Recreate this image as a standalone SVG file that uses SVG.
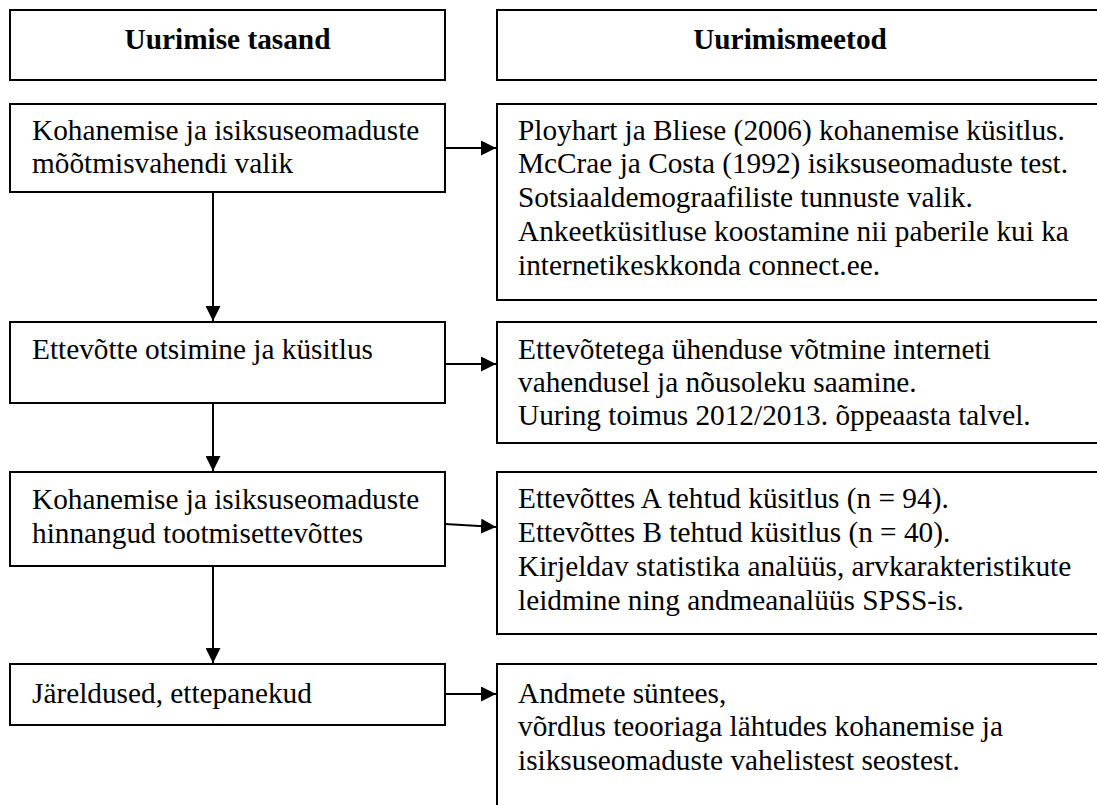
<svg xmlns="http://www.w3.org/2000/svg" width="1097" height="805" viewBox="0 0 1097 805">
  <style>
    .box { fill: #ffffff; stroke: #000000; stroke-width: 2; }
    .t { font-family: "Liberation Serif", "Times New Roman", serif; font-size: 29.3px; fill: #000000; }
    .h { font-family: "Liberation Serif", "Times New Roman", serif; font-size: 29.3px; font-weight: bold; fill: #000000; text-anchor: middle; }
    .link { fill: none; stroke: #000000; stroke-width: 2; }
  </style>
  <defs>
    <marker id="arrow" markerWidth="15" markerHeight="15" refX="15" refY="7.5" orient="auto" markerUnits="userSpaceOnUse">
      <path d="M0,0 L15,7.5 L0,15 z" fill="#000000"/>
    </marker>
  </defs>
  <rect width="1097" height="805" fill="#ffffff"/>

  <!-- column headers -->
  <g id="header-level">
    <rect class="box" x="10" y="10" width="435" height="70"/>
    <text class="h" x="227.5" y="49">Uurimise tasand</text>
  </g>
  <g id="header-methods">
    <rect class="box" x="497" y="10" width="620" height="70"/>
    <text class="h" x="790" y="49">Uurimismeetod</text>
  </g>

  <!-- stage 1 -->
  <g id="level-1">
    <rect class="box" x="10" y="104" width="435" height="88"/>
    <text class="t" x="32" y="140">Kohanemise ja isiksuseomaduste</text>
    <text class="t" x="32" y="173">mõõtmisvahendi valik</text>
  </g>
  <g id="methods-1">
    <rect class="box" x="497" y="104" width="620" height="196"/>
    <text class="t" x="518" y="140">Ployhart ja Bliese (2006) kohanemise küsitlus.</text>
    <text class="t" x="518" y="173">McCrae ja Costa (1992) isiksuseomaduste test.</text>
    <text class="t" x="518" y="207">Sotsiaaldemograafiliste tunnuste valik.</text>
    <text class="t" x="518" y="241">Ankeetküsitluse koostamine nii paberile kui ka</text>
    <text class="t" x="518" y="275">internetikeskkonda connect.ee.</text>
  </g>

  <!-- stage 2 -->
  <g id="level-2">
    <rect class="box" x="10" y="322" width="435" height="81"/>
    <text class="t" x="32" y="359">Ettevõtte otsimine ja küsitlus</text>
  </g>
  <g id="methods-2">
    <rect class="box" x="497" y="322" width="620" height="121"/>
    <text class="t" x="518" y="359">Ettevõtetega ühenduse võtmine interneti</text>
    <text class="t" x="518" y="392">vahendusel ja nõusoleku saamine.</text>
    <text class="t" x="518" y="425">Uuring toimus 2012/2013. õppeaasta talvel.</text>
  </g>

  <!-- stage 3 -->
  <g id="level-3">
    <rect class="box" x="10" y="472" width="435" height="94"/>
    <text class="t" x="32" y="509">Kohanemise ja isiksuseomaduste</text>
    <text class="t" x="32" y="543">hinnangud tootmisettevõttes</text>
  </g>
  <g id="methods-3">
    <rect class="box" x="497" y="472" width="620" height="162"/>
    <text class="t" x="518" y="508">Ettevõttes A tehtud küsitlus (n = 94).</text>
    <text class="t" x="518" y="542">Ettevõttes B tehtud küsitlus (n = 40).</text>
    <text class="t" x="518" y="576">Kirjeldav statistika analüüs, arvkarakteristikute</text>
    <text class="t" x="518" y="610">leidmine ning andmeanalüüs SPSS-is.</text>
  </g>

  <!-- stage 4 -->
  <g id="level-4">
    <rect class="box" x="10" y="664" width="435" height="61"/>
    <text class="t" x="32" y="703">Järeldused, ettepanekud</text>
  </g>
  <g id="methods-4">
    <rect class="box" x="497" y="664" width="620" height="160"/>
    <text class="t" x="518" y="703">Andmete süntees,</text>
    <text class="t" x="518" y="736">võrdlus teooriaga lähtudes kohanemise ja</text>
    <text class="t" x="518" y="770">isiksuseomaduste vahelistest seostest.</text>
  </g>

  <!-- connectors -->
  <g id="connectors">
    <line class="link" x1="445" y1="148" x2="496" y2="148" marker-end="url(#arrow)"/>
    <line class="link" x1="445" y1="364" x2="496" y2="364" marker-end="url(#arrow)"/>
    <line class="link" x1="445" y1="524" x2="496" y2="527" marker-end="url(#arrow)"/>
    <line class="link" x1="445" y1="694" x2="496" y2="694" marker-end="url(#arrow)"/>
    <line class="link" x1="213" y1="192" x2="213" y2="321" marker-end="url(#arrow)"/>
    <line class="link" x1="213" y1="403" x2="213" y2="471" marker-end="url(#arrow)"/>
    <line class="link" x1="213" y1="566" x2="213" y2="663" marker-end="url(#arrow)"/>
  </g>
</svg>
